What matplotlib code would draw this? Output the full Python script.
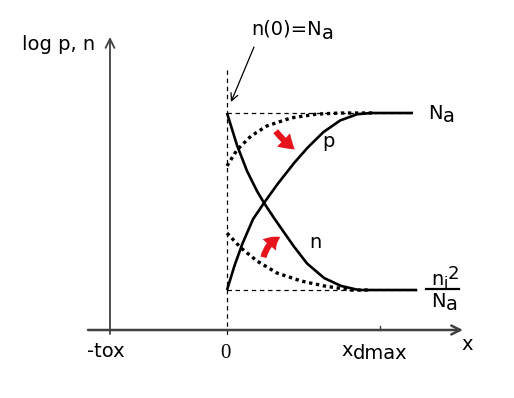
import matplotlib
matplotlib.use("Agg")
import matplotlib.pyplot as plt
from matplotlib.patches import FancyArrowPatch

# ---- data (diagram units: x = 0 at surface, x = 1 at xdmax; y = 0 at ni^2/Na level, y = 1 at Na level)
p_x = [0.0, 0.05, 0.10, 0.17, 0.242, 0.33, 0.44, 0.53, 0.63, 0.74, 0.85, 0.94, 1.216]
p_y = [0.0, 0.14, 0.26, 0.40, 0.492, 0.598, 0.719, 0.807, 0.892, 0.958, 0.993, 1.0, 1.0]

n_x = [0.0, 0.065, 0.131, 0.196, 0.242, 0.307, 0.373, 0.438, 0.523, 0.634, 0.745, 0.860, 1.242]
n_y = [1.0, 0.819, 0.672, 0.559, 0.492, 0.407, 0.325, 0.245, 0.150, 0.068, 0.023, 0.0, 0.0]

p0_x = [0.0, 0.065, 0.157, 0.261, 0.418, 0.588, 0.745, 0.95]
p0_y = [0.701, 0.791, 0.870, 0.927, 0.972, 0.994, 1.0, 1.0]

n0_x = [0.0, 0.092, 0.196, 0.327, 0.484, 0.634, 0.810, 0.93]
n0_y = [0.322, 0.237, 0.164, 0.096, 0.051, 0.023, 0.0, 0.0]

x_dmax = 1.0
y_axis_level = -0.226

fig = plt.figure(figsize=(5.14, 3.98), dpi=100)
ax = fig.add_axes([0, 0, 1, 1])
ax.set_xlim(-227 / 153, (514 - 227) / 153)
ax.set_ylim((290 - 398) / 177, 290 / 177)
ax.axis("off")


def P(px, py):
    return ((px - 227) / 153, (290 - py) / 177)


FONT = "DejaVu Sans"
FS = 14
axcol = "#404040"

# axes
ax.annotate("", xy=P(463, 330), xytext=P(88, 330),
            arrowprops=dict(arrowstyle="->", lw=1.8, color=axcol, mutation_scale=16, shrinkA=0, shrinkB=0))
ax.annotate("", xy=P(110, 37), xytext=P(110, 334),
            arrowprops=dict(arrowstyle="->", lw=1.3, color=axcol, mutation_scale=16, shrinkA=0, shrinkB=0))
ax.plot([x_dmax, x_dmax], [y_axis_level, y_axis_level + 0.02], color=axcol, lw=1.0)

# guide lines
dash = dict(color="black", lw=0.9, dashes=(3.5, 3))
ax.plot([0, 0], [P(0, 70)[1], P(0, 338)[1]], **dash)
ax.plot([0, P(413, 0)[0]], [1, 1], **dash)
ax.plot([0, P(417, 0)[0]], [0, 0], **dash)

# curves
ax.plot(p_x, p_y, color="black", lw=1.9, solid_capstyle="butt", solid_joinstyle="round")
ax.plot(n_x, n_y, color="black", lw=1.9, solid_capstyle="butt", solid_joinstyle="round")
ax.plot(p0_x, p0_y, color="black", lw=2.4, linestyle=(0, (1, 1.1)))
ax.plot(n0_x, n0_y, color="black", lw=2.4, linestyle=(0, (1, 1.1)))

# red arrows
red = "#e8141c"
a1 = FancyArrowPatch(P(274, 129), P(297, 151), connectionstyle="arc3,rad=0.08",
                     arrowstyle="simple,head_length=0.75,head_width=0.95,tail_width=0.32",
                     mutation_scale=14, color=red, lw=0)
a2 = FancyArrowPatch(P(263, 260), P(283, 236), connectionstyle="arc3,rad=-0.3",
                     arrowstyle="simple,head_length=0.7,head_width=0.9,tail_width=0.32",
                     mutation_scale=14, color=red, lw=0)
ax.add_patch(a1)
ax.add_patch(a2)

# n(0) pointer
ax.annotate("", xy=P(231, 102), xytext=P(254, 47),
            arrowprops=dict(arrowstyle="->", lw=0.9, color="black", mutation_scale=13, shrinkA=0, shrinkB=0))

# texts
def T(px, py, s, ha="left", fs=FS, family=FONT, **kw):
    ax.text(*P(px, py), s, ha=ha, va="baseline", fontsize=fs, family=family, **kw)

T(95, 50, "log p, n", ha="right")
T(251, 35, "n(0)=N")
T(322, 39, "a")
T(428, 119, "N")
T(443, 122, "a")
T(322, 147, "p")
T(309, 248, "n")
# fraction ni^2 / Na
T(431, 285, "n")
T(444, 288, "i", fs=11)
T(448, 279, "2", fs=13)
ax.plot([P(426, 0)[0], P(459, 0)[0]], [P(0, 289)[1]] * 2, color="black", lw=1.6)
T(431, 307, "N")
T(446, 310, "a")
# x axis labels
T(87, 357, "-tox")
T(225, 358, "0", ha="center", family="Liberation Serif", fs=15)
T(341, 356, "x")
T(353, 359, "dmax")
T(461, 350, "x")

fig.savefig("out.png", dpi=100, facecolor="white")
